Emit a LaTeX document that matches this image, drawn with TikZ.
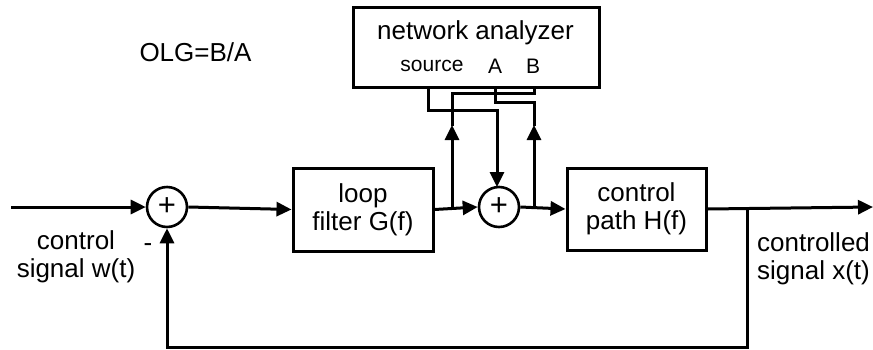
\documentclass[tikz,border=0pt]{standalone}
\usepackage{fontspec}
\setmainfont{Liberation Sans}
\usetikzlibrary{arrows.meta}
\begin{document}
\begin{tikzpicture}[x=1pt,y=-1pt,
  wire/.style={line width=3pt},
  arr/.style={wire,-{Triangle[length=15pt,width=14pt]}},
  blk/.style={draw,line width=3pt,inner sep=0pt,align=center,font=\fontsize{26}{28}\selectfont},
  sumnode/.style={draw,circle,line width=2.6pt,minimum size=40pt,inner sep=0pt,font=\fontsize{31}{31}\selectfont},
  lbl/.style={inner sep=0pt,font=\fontsize{26}{28}\selectfont},
  small/.style={inner sep=0pt,font=\fontsize{21}{24}\selectfont}]
\useasboundingbox (0,0) rectangle (873,349);
% boxes
\node[blk,minimum width=140pt,minimum height=83pt] (loop) at (363,209.5) {loop\\filter G(f)};
\node[blk,minimum width=139pt,minimum height=82pt] (path) at (636.5,209) {control\\path H(f)};
\node[draw,line width=3pt,minimum width=246pt,minimum height=80pt,inner sep=0pt] (na) at (476,47) {};
\node[lbl] (natitle) at (475.5,33) {network analyzer};
\node[small] (src) at (432,66) {source};
\node[small] (pa) at (495,66) {A};
\node[small] (pb) at (533,66) {B};
% summing points
\node[sumnode] (s1) at (167,207) {+};
\node[sumnode] (s2) at (499,207) {+};
% labels
\node[lbl] (olg) at (195.5,52) {OLG=B/A};
\node[lbl,align=center] (win) at (76,257) {control\\signal w(t)};
\node[lbl,align=left,anchor=west] (xout) at (757,259) {controlled\\signal x(t)};
\node[lbl] (minus) at (148,248) {-};
% coordinates
\coordinate (in) at (11,207);
\coordinate (out) at (873,207);
\coordinate (tapL) at (452,207);
\coordinate (tapR) at (534,207);
\coordinate (tapF) at (747,207);
\coordinate (srcb) at (428,87);
\coordinate (ab) at (495,87);
\coordinate (bb) at (534,87);
% main path
\draw[arr] (in) -- (s1.west);
\draw[arr] (s1.east) -- (loop.west);
\draw[arr] (loop.east) -- (s2.west);
\draw[arr] (s2.east) -- (path.west);
\draw[arr] (path.east) -- (out);
\draw[arr] (tapF) -- (747,347) -- (167,347) -- (s1.south);
% analyzer wires
\draw[arr] (tapL) -- (452,125);
\draw[wire] (452,126) -- (452,93.5) -- (534,93.5) -- (bb);
\draw[arr] (tapR) -- (534,125);
\draw[wire] (534,126) -- (534,102) -- (495,102) -- (ab);
\draw[arr] (srcb) -- (428,110) -- (497,110) -- (497,187);
\end{tikzpicture}
\end{document}
